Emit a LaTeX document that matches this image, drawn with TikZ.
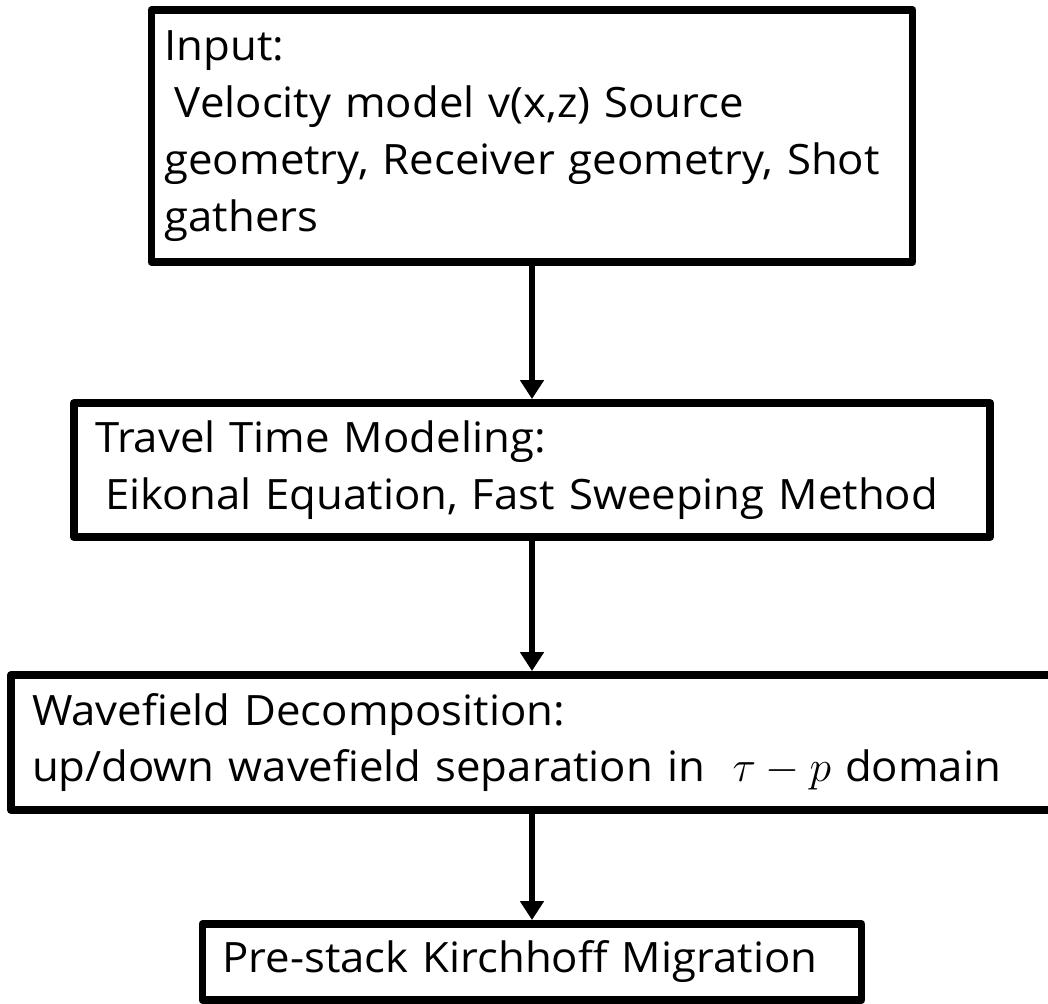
\documentclass[tikz,border=0pt]{standalone}
\usepackage{fontspec}
\setmainfont{Open Sans}[FakeStretch=1.045, WordSpace=0.7]
\usetikzlibrary{positioning, arrows.meta}

\tikzset{
  stepbox/.style={draw, rectangle, line width=4.5pt, line join=round, align=left,
    inner xsep=0.26cm, inner ysep=0pt, font=\fontsize{23.8}{32.4}\selectfont},
  flow/.style={-{Triangle[width=0.46cm,length=0.38cm]}, line width=3.4pt},
}

\begin{document}
\begin{tikzpicture}
    \useasboundingbox (0,0) rectangle (20.96,-20.06);
    % the four processing steps
    \node[stepbox, text width=14.70cm, minimum height=5.04cm] (input) at (10.64,-2.72)
      {Input:\\\hspace*{0.25em}Velocity model v(x,z) Source\\geometry, Receiver geometry, Shot\\gathers};
    \node[stepbox, inner xsep=0.42cm, text width=17.48cm, minimum height=2.68cm] (travel) at (10.64,-9.40)
      {Travel Time Modeling:\\\hspace*{0.25em}Eikonal Equation, Fast Sweeping Method};
    \node[stepbox, inner xsep=0.42cm, text width=20.00cm, minimum height=2.70cm] (wave) at (10.64,-14.85)
      {Wavefield Decomposition:\\up/down wavefield separation in \ $\tau - p$ domain};
    \node[stepbox, inner xsep=0.40cm, text width=12.38cm, minimum height=1.52cm] (mig) at (10.64,-19.24)
      {Pre-stack Kirchhoff Migration};
    % arrows
    \draw[flow] (input) -- (travel);
    \draw[flow] (travel) -- (wave);
    \draw[flow] (wave) -- (mig);
\end{tikzpicture}
\end{document}
